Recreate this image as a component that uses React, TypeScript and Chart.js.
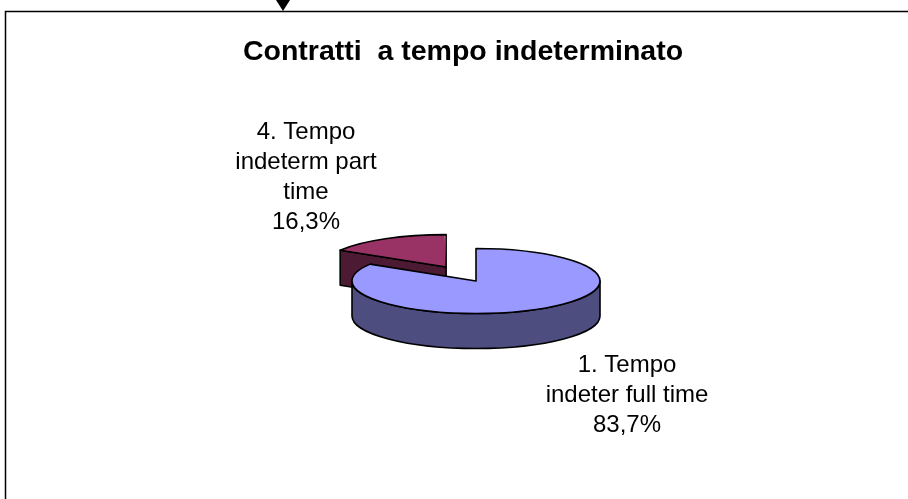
import React, { useEffect, useRef } from "react";
import { Chart, registerables } from "chart.js";

Chart.register(...registerables);

const categories = ["1. Tempo indeter full time", "4. Tempo indeterm part time"];
const shares = [83.7, 16.3];
const explode = [0, 244];
const labelLines = [["1. Tempo", "indeter full time"], ["4. Tempo", "indeterm part", "time"]];
const topColors = ["#9999FF", "#993366"];
const wallColors = ["#4D4D80", "#4D1A33"];
const chartTitle = "Contratti  a tempo indeterminato";

const FONT = '"Liberation Sans", Arial, sans-serif';
const PIE = { x: 476, y: 281, r: 124, k: 0.262, depth: 35 };
const LABEL_POS = [{ x: 627, y: 365 }, { x: 306, y: 132 }];
const LINE_H = 30;
const INK = "#000";

function geom(arc: any) {
  const mid = (arc.startAngle + arc.endAngle) / 2;
  const off = (arc.options.offset || 0) / 4;
  return {
    cx: PIE.x + Math.cos(mid) * off,
    cy: PIE.y + Math.sin(mid) * off * PIE.k,
    a: arc.startAngle,
    b: arc.endAngle,
  };
}

const pie3d = {
  id: "pie3d",
  beforeDraw(chart: any) {
    const ctx = chart.ctx;
    ctx.save();
    ctx.strokeStyle = INK;
    ctx.lineWidth = 1.5;
    ctx.beginPath();
    ctx.moveTo(5.5, 499);
    ctx.lineTo(5.5, 11.5);
    ctx.lineTo(908, 11.5);
    ctx.stroke();
    ctx.fillStyle = INK;
    ctx.beginPath();
    ctx.moveTo(276, 0);
    ctx.lineTo(290, 0);
    ctx.lineTo(283, 11);
    ctx.closePath();
    ctx.fill();
    ctx.restore();
  },
  afterDatasetsUpdate(chart: any) {
    // the arc element widens a small exploded slice by offset * fix; keep every slice the same radius
    chart.getDatasetMeta(0).data.forEach((arc: any) => {
      const fix = 1 - Math.sin(Math.min(Math.PI, arc.circumference || 0));
      arc.outerRadius = PIE.r - ((arc.options.offset || 0) / 4) * fix;
    });
  },
  beforeDatasetsDraw(chart: any) {
    const ctx = chart.ctx;
    const arcs = chart.getDatasetMeta(0).data;
    ctx.save();
    ctx.lineWidth = 1.6;
    ctx.strokeStyle = INK;
    ctx.lineJoin = "round";
    for (let i = arcs.length - 1; i >= 0; i--) {
      const g = geom(arcs[i]);
      ctx.fillStyle = wallColors[i];
      const px = (t: number) => g.cx + PIE.r * Math.cos(t);
      const py = (t: number) => g.cy + PIE.r * PIE.k * Math.sin(t);
      const face = (t: number) => {
        ctx.beginPath();
        ctx.moveTo(g.cx, g.cy);
        ctx.lineTo(px(t), py(t));
        ctx.lineTo(px(t), py(t) + PIE.depth);
        ctx.lineTo(g.cx, g.cy + PIE.depth);
        ctx.closePath();
        ctx.fill();
        ctx.stroke();
      };
      if (Math.cos(g.a) < -1e-6) face(g.a);
      if (Math.cos(g.b) > 1e-6) face(g.b);
      const t1 = Math.max(g.a, 0);
      const t2 = Math.min(g.b, Math.PI);
      if (t2 > t1) {
        ctx.beginPath();
        ctx.ellipse(g.cx, g.cy, PIE.r, PIE.r * PIE.k, 0, t1, t2);
        ctx.lineTo(px(t2), py(t2) + PIE.depth);
        ctx.ellipse(g.cx, g.cy + PIE.depth, PIE.r, PIE.r * PIE.k, 0, t2, t1, true);
        ctx.closePath();
        ctx.fill();
        ctx.stroke();
      }
    }
    ctx.restore();
    const a0 = arcs[0];
    ctx.save();
    ctx.translate(PIE.x, PIE.y);
    ctx.scale(1, PIE.k);
    ctx.translate(-a0.x, -a0.y);
  },
  afterDatasetsDraw(chart: any) {
    const ctx = chart.ctx;
    ctx.restore();
    const arcs = chart.getDatasetMeta(0).data;
    ctx.save();
    ctx.lineWidth = 1.6;
    ctx.strokeStyle = INK;
    ctx.lineJoin = "round";
    arcs.forEach((arc: any) => {
      const g = geom(arc);
      ctx.beginPath();
      ctx.moveTo(g.cx, g.cy);
      ctx.ellipse(g.cx, g.cy, PIE.r, PIE.r * PIE.k, 0, g.a, g.b);
      ctx.closePath();
      ctx.stroke();
    });
    ctx.fillStyle = "#000";
    ctx.font = `24px ${FONT}`;
    ctx.textAlign = "center";
    ctx.textBaseline = "middle";
    labelLines.forEach((lines, i) => {
      const all = [...lines, shares[i].toFixed(1).replace(".", ",") + "%"];
      all.forEach((t, j) => ctx.fillText(t, LABEL_POS[i].x, LABEL_POS[i].y + j * LINE_H));
    });
    ctx.restore();
  },
};

export default function App() {
  const ref = useRef<HTMLCanvasElement>(null);
  useEffect(() => {
    const chart = new Chart(ref.current!, {
      type: "pie",
      data: {
        labels: categories,
        datasets: [
          {
            data: shares,
            backgroundColor: topColors,
            borderWidth: 0,
            offset: explode,
            radius: PIE.r,
            clip: false,
          } as any,
        ],
      },
      options: {
        responsive: false,
        animation: false,
        rotation: 0,
        layout: { padding: { left: 18 } },
        plugins: {
          legend: { display: false },
          tooltip: { enabled: false },
          title: {
            display: true,
            text: chartTitle,
            fullSize: false,
            color: "#000",
            font: { family: FONT, size: 28.5, weight: "bold" },
            padding: { top: 35, bottom: 10 },
          },
        },
      } as any,
      plugins: [pie3d],
    });
    return () => chart.destroy();
  }, []);
  return (
    <div style={{ position: "absolute", left: 0, top: 0, width: 908, height: 499 }}>
      <canvas ref={ref} width={908} height={499} style={{ display: "block" }} />
    </div>
  );
}
